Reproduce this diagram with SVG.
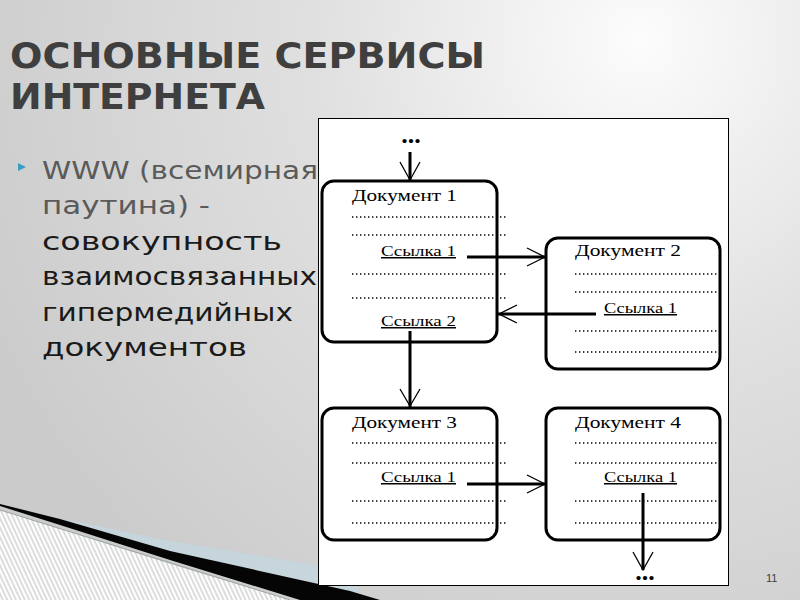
<svg xmlns="http://www.w3.org/2000/svg" width="800" height="600" viewBox="0 0 800 600">
<defs>
  <radialGradient id="bg" cx="640" cy="40" r="720" gradientUnits="userSpaceOnUse">
    <stop offset="0" stop-color="#fcfcfc"/>
    <stop offset="0.45" stop-color="#e0e0e0"/>
    <stop offset="1" stop-color="#cbcbcb"/>
  </radialGradient>
  <pattern id="hatch" width="4" height="4" patternUnits="userSpaceOnUse" patternTransform="rotate(-25)">
    <rect width="4" height="4" fill="#ffffff"/>
    <line x1="1" y1="0" x2="1" y2="4" stroke="#a8a8a8" stroke-width="0.8"/>
  </pattern>
  <style>
    .title{font-family:"DejaVu Sans","Liberation Sans",sans-serif;font-weight:bold;font-size:35px;fill:#3f3f3f}
    .body{font-family:"DejaVu Sans","Liberation Sans",sans-serif;font-size:24px}
    .gray{fill:#5a5a5a}
    .dark{fill:#1a1a1a}
    .box{fill:#ffffff;stroke:#000;stroke-width:3}
    .head{font-family:"Liberation Serif","DejaVu Serif",serif;font-size:17px;fill:#000}
    .link{font-family:"Liberation Serif","DejaVu Serif",serif;font-size:15px;fill:#000;text-decoration:underline}
    .dots{stroke:#000;stroke-width:1.4;stroke-dasharray:1.4 2.6}
    .shaft{stroke:#000;stroke-width:3;fill:none}
    .head-arm{stroke:#000;stroke-width:1.3;fill:none}
    .ell{font-family:"Liberation Serif","DejaVu Serif",serif;font-size:26px;font-weight:bold;fill:#000}
  </style>
</defs>

<rect x="0" y="0" width="800" height="600" fill="url(#bg)"/>

<!-- bottom-left decoration -->
<polygon points="30,512 170,541 350,571 360,594 170,553 30,516" fill="#c4d6de" opacity="0.8"/>
<polygon points="0,510 180,567 290,600 0,600" fill="url(#hatch)"/>
<line x1="0" y1="510" x2="290" y2="600" stroke="#8a9aa0" stroke-width="0.8"/>
<polygon points="0,504 60,519 170,551 350,591 380,600 300,600 170,560 60,525 0,506" fill="#050505"/>

<!-- title -->
<text class="title" x="10" y="68" textLength="475" lengthAdjust="spacingAndGlyphs">ОСНОВНЫЕ СЕРВИСЫ</text>
<text class="title" x="10" y="109" textLength="255" lengthAdjust="spacingAndGlyphs">ИНТЕРНЕТА</text>

<!-- bullet text -->
<polygon points="18,163 26,167 18,171" fill="#3a9fc4"/>
<text class="body gray" x="42" y="179" textLength="276" lengthAdjust="spacingAndGlyphs">WWW (всемирная</text>
<text class="body gray" x="42" y="214" textLength="168" lengthAdjust="spacingAndGlyphs">паутина) -</text>
<text class="body dark" x="42" y="250" textLength="240" lengthAdjust="spacingAndGlyphs">совокупность</text>
<text class="body dark" x="42" y="285" textLength="275" lengthAdjust="spacingAndGlyphs">взаимосвязанных</text>
<text class="body dark" x="42" y="321" textLength="251" lengthAdjust="spacingAndGlyphs">гипермедийных</text>
<text class="body dark" x="42" y="356" textLength="205" lengthAdjust="spacingAndGlyphs">документов</text>

<!-- diagram panel -->
<rect x="318.5" y="118.5" width="410" height="467" fill="#ffffff" stroke="#000" stroke-width="1"/>

<g id="doc1">
  <rect class="box" x="322" y="181" width="175" height="161" rx="12"/>
  <text class="head" x="352" y="201" textLength="105" lengthAdjust="spacingAndGlyphs">Документ 1</text>
  <line class="dots" x1="352" y1="217" x2="507" y2="217"/>
  <line class="dots" x1="352" y1="235" x2="507" y2="235"/>
  <text class="link" x="381" y="256" textLength="75" lengthAdjust="spacingAndGlyphs">Ссылка 1</text>
  <line class="dots" x1="352" y1="274" x2="507" y2="274"/>
  <line class="dots" x1="352" y1="298" x2="507" y2="298"/>
  <text class="link" x="381" y="326" textLength="75" lengthAdjust="spacingAndGlyphs">Ссылка 2</text>
</g>

<g id="doc2">
  <rect class="box" x="546" y="238" width="174" height="131" rx="12"/>
  <text class="head" x="575" y="256" textLength="106" lengthAdjust="spacingAndGlyphs">Документ 2</text>
  <line class="dots" x1="575" y1="274" x2="717" y2="274"/>
  <line class="dots" x1="575" y1="292" x2="717" y2="292"/>
  <text class="link" x="604" y="313" textLength="73" lengthAdjust="spacingAndGlyphs">Ссылка 1</text>
  <line class="dots" x1="575" y1="331" x2="717" y2="331"/>
  <line class="dots" x1="575" y1="352" x2="717" y2="352"/>
</g>

<g id="doc3">
  <rect class="box" x="322" y="408" width="175" height="132" rx="12"/>
  <text class="head" x="352" y="428" textLength="105" lengthAdjust="spacingAndGlyphs">Документ 3</text>
  <line class="dots" x1="352" y1="443" x2="507" y2="443"/>
  <line class="dots" x1="352" y1="463" x2="507" y2="463"/>
  <text class="link" x="381" y="482" textLength="75" lengthAdjust="spacingAndGlyphs">Ссылка 1</text>
  <line class="dots" x1="352" y1="501" x2="507" y2="501"/>
  <line class="dots" x1="352" y1="523" x2="507" y2="523"/>
</g>

<g id="doc4">
  <rect class="box" x="546" y="408" width="174" height="132" rx="12"/>
  <text class="head" x="575" y="428" textLength="106" lengthAdjust="spacingAndGlyphs">Документ 4</text>
  <line class="dots" x1="575" y1="443" x2="717" y2="443"/>
  <line class="dots" x1="575" y1="463" x2="717" y2="463"/>
  <text class="link" x="604" y="482" textLength="73" lengthAdjust="spacingAndGlyphs">Ссылка 1</text>
  <line class="dots" x1="575" y1="501" x2="717" y2="501"/>
  <line class="dots" x1="575" y1="523" x2="717" y2="523"/>
</g>

<g id="connectors">
  <text class="ell" x="411" y="143" text-anchor="middle">...</text>
  <line class="shaft" x1="410" y1="152" x2="410" y2="181"/>
  <polyline class="head-arm" points="400,162 410,180 420,162"/>

  <line class="shaft" x1="467" y1="257" x2="545" y2="257"/>
  <polyline class="head-arm" points="527,248 545,257 527,266"/>

  <line class="shaft" x1="596" y1="314" x2="498" y2="314"/>
  <polyline class="head-arm" points="517,305 499,314 517,323"/>

  <line class="shaft" x1="410" y1="331" x2="410" y2="407"/>
  <polyline class="head-arm" points="400,389 410,406 420,389"/>

  <line class="shaft" x1="467" y1="484" x2="545" y2="484"/>
  <polyline class="head-arm" points="527,475 545,484 527,493"/>

  <line class="shaft" x1="643" y1="493" x2="643" y2="570"/>
  <polyline class="head-arm" points="633,552 643,570 653,552"/>
  <text class="ell" x="645" y="580" text-anchor="middle">...</text>
</g>

<text x="766" y="582" font-family="Liberation Sans, Arial, sans-serif" font-size="11" fill="#404040">11</text>
</svg>
